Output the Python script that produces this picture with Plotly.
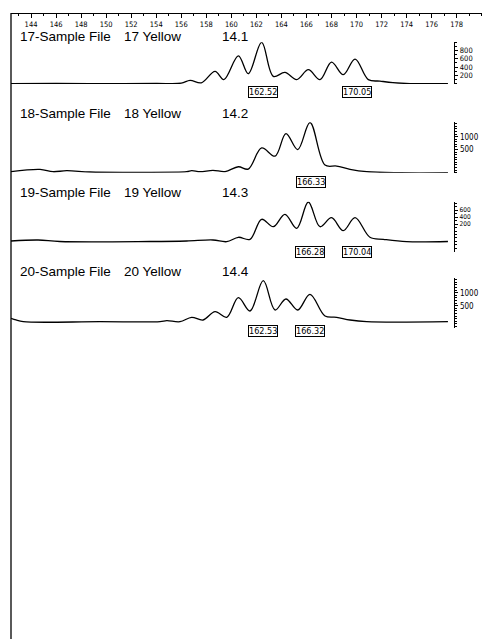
import plotly.graph_objects as go

W, H = 482, 639

# ---------------- data ----------------
size_ticks = list(range(144, 179, 2))

p1_bp = [142.4, 146.0, 150.0, 154.0, 156.0, 156.7, 157.6, 158.7, 159.4, 160.56, 161.35, 162.42, 163.35,
         164.28, 165.22, 166.15, 167.08, 168.0, 168.94, 169.88, 170.94, 171.87, 172.9, 174.27, 177.3]
p1_rfu = [0, 5, 0, 5, 10, 80, 20, 295, 96, 672, 240, 1000, 175,
          270, 96, 336, 96, 520, 216, 593, 96, 60, 24, 0, 0]

p2_bp = [142.4, 144.72, 145.75, 146.85, 148.7, 151.9, 156.43, 156.83, 157.5, 158.53, 159.5, 160.56, 161.35,
         162.42, 163.49, 164.36, 165.3, 166.28, 167.48, 168.41, 169.48, 170.81, 173.47, 177.3]
p2_rfu = [-362, -270, -362, -323, -373, -385, -362, -323, -362, -308, -354, -169, -258,
          562, 243, 1117, 500, 1550, -104, -142, -270, -362, -400, -400]

p3_bp = [142.4, 144.56, 146.3, 153.5, 156.43, 158.53, 159.63, 160.56, 161.49, 162.42, 163.35, 164.28,
         165.22, 166.15, 167.08, 168.0, 168.94, 169.88, 171.07, 172.14, 174.0, 177.3]
p3_rfu = [-286, -257, -300, -300, -286, -257, -306, -180, -237, 335, 123, 478,
          77, 830, 123, 380, 9, 380, -180, -237, -306, -300]

p4_bp = [142.4, 142.8, 143.38, 149.5, 154.3, 154.84, 155.9, 156.83, 157.74, 158.7, 159.63, 160.56, 161.49,
         162.55, 163.49, 164.36, 165.3, 166.28, 167.48, 168.41, 169.48, 170.81, 177.3]
p4_rfu = [15, -50, -115, -115, -115, -77, -115, 54, -50, 270, 54, 809, 296,
          1463, 335, 758, 335, 939, 104, 54, -50, -115, -115]

titles = [("17-Sample File", "17 Yellow", "14.1"),
          ("18-Sample File", "18 Yellow", "14.2"),
          ("19-Sample File", "19 Yellow", "14.3"),
          ("20-Sample File", "20 Yellow", "14.4")]
peak_labels = [[162.52, 170.05], [166.33], [166.28, 170.04], [162.53, 166.32]]
y_ticks = [[200, 400, 600, 800], [500, 1000], [200, 400, 600], [500, 1000]]
y_minor = [100, 100, 100, 100]

series = [(p1_bp, p1_rfu), (p2_bp, p2_rfu), (p3_bp, p3_rfu), (p4_bp, p4_rfu)]

# ---------------- layout geometry (pixels) ----------------
def fx(p):
    return p / W

def fy(p):
    return 1 - p / H

panel_px = [(42.3, 84.0), (122.3, 172.7), (201.7, 251.7), (278.3, 328.3)]   # top, bottom of y axis line
panel_range = [[-10, 1000], [-400, 1560], [-592, 838], [-370, 1555]]
ytick_size = [7.5, 8, 6.5, 8]
title_y = [36, 113, 193, 271.5]
label_y = [91.7, 181.7, 251.7, 331]
title_x = [19, 123, 221]

FONT_NARROW = "Liberation Sans Narrow, Arial Narrow, DejaVu Sans Condensed, sans-serif"
FONT_MAIN = "Liberation Sans, Arial, Helvetica, sans-serif"

fig = go.Figure()
for i, (xs, ys) in enumerate(series):
    yname = "y" if i == 0 else f"y{i+1}"
    fig.add_trace(go.Scatter(x=xs, y=ys, mode="lines", xaxis="x", yaxis=yname,
                             line=dict(color="black", width=1.3, shape="spline", smoothing=1.0),
                             hoverinfo="skip", showlegend=False))

layout = dict(
    width=W, height=H,
    margin=dict(l=0, r=0, t=0, b=0, pad=0, autoexpand=False),
    paper_bgcolor="white", plot_bgcolor="rgba(0,0,0,0)",
    showlegend=False,
    xaxis=dict(domain=[fx(11), 1], range=[142.4, 180.02], anchor="free", position=fy(13), side="bottom",
               showline=True, linecolor="black", linewidth=1,
               ticks="outside", ticklen=4, tickcolor="black", tickwidth=1,
               tickvals=size_ticks, showgrid=False, zeroline=False, automargin=False,
               minor=dict(dtick=1, tick0=143, ticks="outside", ticklen=2, tickcolor="black", showgrid=False),
               tickfont=dict(family=FONT_NARROW, size=7.5, color="black")),
)
for i in range(4):
    key = "yaxis" if i == 0 else f"yaxis{i+1}"
    top, bot = panel_px[i]
    layout[key] = dict(domain=[fy(bot), fy(top)], range=panel_range[i], anchor="free",
                       position=fx(454.3), side="right", automargin=False,
                       showline=True, linecolor="black", linewidth=1,
                       ticks="outside", ticklen=3, tickcolor="black",
                       tickvals=y_ticks[i], showgrid=False, zeroline=False,
                       minor=dict(dtick=y_minor[i], ticks="outside", ticklen=2, tickcolor="black", showgrid=False),
                       tickfont=dict(family=FONT_NARROW, size=ytick_size[i], color="black"))
fig.update_layout(**layout)

annotations = []
for i in range(4):
    for j, part in enumerate(titles[i]):
        annotations.append(dict(x=fx(title_x[j]), y=fy(title_y[i]), xref="paper", yref="paper",
                                text=part, showarrow=False, xanchor="left", yanchor="middle",
                                borderpad=0,
                                font=dict(family=FONT_MAIN, size=13.5, color="black")))
    for v in peak_labels[i]:
        annotations.append(dict(x=v, y=fy(label_y[i]), xref="x", yref="paper",
                                text=f"{v:.2f}", showarrow=False, xanchor="center", yanchor="middle",
                                bordercolor="black", borderwidth=1, borderpad=0, bgcolor="white",
                                font=dict(family=FONT_NARROW, size=9, color="black")))
fig.update_layout(annotations=annotations)

# left border of the chart area
fig.add_shape(type="line", xref="paper", yref="paper", x0=fx(11), x1=fx(11), y0=fy(13), y1=0,
              line=dict(color="black", width=1.3))

fig.write_html("out.html", config={"displayModeBar": False, "staticPlot": True},
               post_script="document.body.style.margin='0';document.body.style.padding='0';")
